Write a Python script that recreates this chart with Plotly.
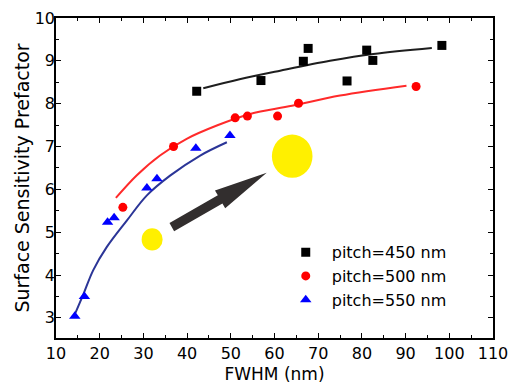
import plotly.graph_objects as go

# ---- data ----
fwhm_450 = [42.2, 56.9, 66.6, 67.7, 76.6, 81.1, 82.5, 98.3]
spf_450 = [8.29, 8.54, 8.99, 9.29, 8.53, 9.25, 9.01, 9.36]

fwhm_500 = [25.3, 36.9, 51.0, 53.8, 60.7, 65.5, 92.4]
spf_500 = [5.58, 7.00, 7.67, 7.71, 7.71, 8.01, 8.40]

fwhm_550 = [14.3, 16.5, 21.8, 23.3, 30.8, 33.1, 42.0, 49.8]
spf_550 = [3.04, 3.50, 5.23, 5.34, 6.03, 6.25, 6.96, 7.26]

# fitted curves
fit_x_450 = [43.7, 52.0, 61.3, 72.7, 82.6, 96.0]
fit_y_450 = [8.36, 8.57, 8.77, 9.00, 9.16, 9.30]

fit_x_500 = [23.7, 28.5, 33.8, 39.9, 46.8, 54.4, 64.0, 75.0, 90.2]
fit_y_500 = [5.80, 6.33, 6.79, 7.18, 7.49, 7.76, 7.95, 8.19, 8.42]

fit_x_550 = [14.0, 16.3, 18.5, 21.6, 26.2, 30.8, 36.1, 43.0, 49.1]
fit_y_550 = [3.01, 3.56, 4.11, 4.65, 5.27, 5.86, 6.32, 6.79, 7.10]

labels = ["pitch=450 nm", "pitch=500 nm", "pitch=550 nm"]
x_ticks = [10, 20, 30, 40, 50, 60, 70, 80, 90, 100, 110]
y_ticks = [3, 4, 5, 6, 7, 8, 9, 10]

# decorations (data coordinates)
small_circle = (29.6, 4.57, 34.4, 5.09)
big_circle = (59.4, 6.27, 68.7, 7.28)
arrow_x = [37.03, 48.08, 48.72, 58.22, 46.38, 47.03, 35.97]
arrow_y = [5.021, 5.668, 5.556, 6.388, 5.972, 5.860, 5.213]

FONT = "DejaVu Sans"

fig = go.Figure()

fig.add_trace(go.Scatter(x=fit_x_450, y=fit_y_450, mode="lines", line=dict(color="#1e1e1e", width=2, shape="spline"),
                         showlegend=False, hoverinfo="skip"))
fig.add_trace(go.Scatter(x=fit_x_500, y=fit_y_500, mode="lines", line=dict(color="#ff2a2a", width=2, shape="spline"),
                         showlegend=False, hoverinfo="skip"))
fig.add_trace(go.Scatter(x=fit_x_550, y=fit_y_550, mode="lines", line=dict(color="#2b3597", width=2, shape="spline"),
                         showlegend=False, hoverinfo="skip"))

fig.add_trace(go.Scatter(x=fwhm_450, y=spf_450, mode="markers", name=labels[0],
                         marker=dict(symbol="square", size=9, color="black")))
fig.add_trace(go.Scatter(x=fwhm_500, y=spf_500, mode="markers", name=labels[1],
                         marker=dict(symbol="circle", size=9, color="#ff0000")))
fig.add_trace(go.Scatter(x=fwhm_550, y=spf_550, mode="markers", name=labels[2],
                         marker=dict(symbol="triangle-up", size=10, color="#0000ff")))

fig.add_shape(type="circle", xref="x", yref="y", x0=small_circle[0], y0=small_circle[1],
              x1=small_circle[2], y1=small_circle[3], fillcolor="#fff000", line=dict(width=0), layer="below")
fig.add_shape(type="circle", xref="x", yref="y", x0=big_circle[0], y0=big_circle[1],
              x1=big_circle[2], y1=big_circle[3], fillcolor="#fff000", line=dict(width=0), layer="below")
path = "M " + " L ".join(f"{x},{y}" for x, y in zip(arrow_x, arrow_y)) + " Z"
fig.add_shape(type="path", xref="x", yref="y", path=path, fillcolor="#322e2e", line=dict(width=0))

axis_common = dict(
    showline=True, linecolor="black", linewidth=1.5, mirror="ticks",
    ticks="inside", ticklen=5, tickwidth=1.2, tickcolor="black",
    showgrid=False, zeroline=False, automargin=False,
    tickfont=dict(family=FONT, size=16, color="black"),
)

fig.update_xaxes(range=[10, 110], tickvals=x_ticks, ticktext=[str(v) for v in x_ticks],
                 minor=dict(dtick=5, ticks="inside", ticklen=3, tickcolor="black", tickwidth=1.2),
                 title=dict(text="FWHM (nm)", font=dict(family=FONT, size=17, color="black"), standoff=6),
                 **axis_common)
fig.update_yaxes(range=[2.53, 10], tickvals=y_ticks, ticktext=[str(v) for v in y_ticks],
                 minor=dict(dtick=0.5, ticks="inside", ticklen=3, tickcolor="black", tickwidth=1.2),
                 ticklabelstandoff=-4,
                 title=dict(text="Surface Sensitivity Prefactor", font=dict(family=FONT, size=19, color="black"), standoff=0),
                 **axis_common)

fig.update_layout(
    width=509, height=385,
    margin=dict(l=56, r=16, t=18, b=47),
    paper_bgcolor="white", plot_bgcolor="white",
    font=dict(family=FONT, color="black"),
    legend=dict(x=0.512, y=0.193, xanchor="left", yanchor="middle", itemwidth=42,
                font=dict(family=FONT, size=16, color="black"),
                bgcolor="rgba(0,0,0,0)", borderwidth=0, tracegroupgap=0),
)

fig.write_html("out.html", config={"displayModeBar": False},
               post_script="document.body.style.margin='0';document.body.style.overflow='hidden';")
